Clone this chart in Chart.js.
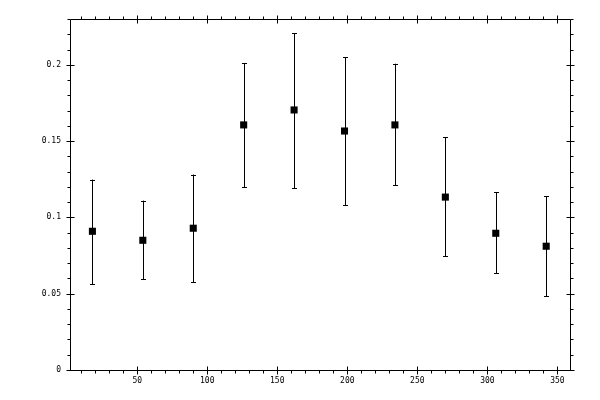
<!DOCTYPE html>
<html>
<head>
<meta charset="utf-8">
<script src="https://cdn.jsdelivr.net/npm/chart.js@4"></script>
<style>
  html, body { margin: 0; padding: 0; background: #fff; }
  #wrap { width: 600px; height: 400px; }
</style>
</head>
<body>
<div id="wrap"><canvas id="c" width="600" height="400"></canvas></div>
<script>
// ---- data ----
const xValues   = [18, 54, 90, 126, 162, 198, 234, 270, 306, 342];
const yValues   = [0.0909, 0.0850, 0.0929, 0.1606, 0.1704, 0.1566, 0.1606, 0.1133, 0.0896, 0.0811];
const yLower    = [0.0561, 0.0594, 0.0574, 0.1198, 0.1192, 0.1080, 0.1212, 0.0745, 0.0633, 0.0482];
const yUpper    = [0.1248, 0.1110, 0.1281, 0.2011, 0.2208, 0.2050, 0.2007, 0.1527, 0.1165, 0.1137];
const xTicks    = [50, 100, 150, 200, 250, 300, 350];
const xTickLabels = ['50', '100', '150', '200', '250', '300', '350'];
const yTicks    = [0, 0.05, 0.1, 0.15, 0.2];
const yTickLabels = ['0', '0.05', '0.1', '0.15', '0.2'];
const xMinorStep = 10;
const yMinorStep = 0.01;

const points = xValues.map((x, i) => ({ x: x, y: yValues[i] }));

const frame = {
  id: 'frame',
  afterDatasetsDraw(chart) {
    const ctx = chart.ctx;
    const a = chart.chartArea;
    const xs = chart.scales.x, ys = chart.scales.y;
    ctx.save();
    ctx.strokeStyle = '#000';
    ctx.lineWidth = 1;
    // error bars
    ctx.beginPath();
    for (let i = 0; i < xValues.length; i++) {
      const px = Math.round(xs.getPixelForValue(xValues[i])) + 0.5;
      const pl = ys.getPixelForValue(yLower[i]);
      const pu = ys.getPixelForValue(yUpper[i]);
      ctx.moveTo(px, pl); ctx.lineTo(px, pu);
      ctx.moveTo(px - 2.5, Math.round(pl) + 0.5); ctx.lineTo(px + 2.5, Math.round(pl) + 0.5);
      ctx.moveTo(px - 2.5, Math.round(pu) + 0.5); ctx.lineTo(px + 2.5, Math.round(pu) + 0.5);
    }
    ctx.stroke();
    // frame
    const L = Math.round(a.left) + 0.5, R = Math.round(a.right) + 0.5;
    const T = Math.round(a.top) + 0.5, B = Math.round(a.bottom) + 0.5;
    ctx.beginPath();
    ctx.rect(L, T, R - L, B - T);
    ctx.stroke();
    // ticks
    ctx.beginPath();
    const xmin = xs.min, xmax = xs.max;
    for (let v = Math.ceil(xmin / xMinorStep) * xMinorStep; v <= xmax + 1e-9; v += xMinorStep) {
      const px = Math.round(xs.getPixelForValue(v)) + 0.5;
      const major = xTicks.some(t => Math.abs(t - v) < 1e-6);
      if (major) {
        ctx.moveTo(px, B - 4); ctx.lineTo(px, B + 4);
        ctx.moveTo(px, T - 4); ctx.lineTo(px, T + 4);
      } else {
        ctx.moveTo(px, B); ctx.lineTo(px, B + 3);
        ctx.moveTo(px, T); ctx.lineTo(px, T - 3);
      }
    }
    const ymin = ys.min, ymax = ys.max;
    for (let k = 0; k * yMinorStep <= ymax + 1e-9; k++) {
      const v = k * yMinorStep;
      if (v < ymin - 1e-9) continue;
      const py = Math.round(ys.getPixelForValue(v)) + 0.5;
      const major = yTicks.some(t => Math.abs(t - v) < 1e-6);
      if (major) {
        ctx.moveTo(L - 4, py); ctx.lineTo(L + 4, py);
        ctx.moveTo(R - 4, py); ctx.lineTo(R + 4, py);
      } else {
        ctx.moveTo(L, py); ctx.lineTo(L - 3, py);
        ctx.moveTo(R, py); ctx.lineTo(R + 3, py);
      }
    }
    ctx.stroke();
    ctx.restore();
  }
};

new Chart(document.getElementById('c'), {
  type: 'scatter',
  data: {
    datasets: [{
      data: points,
      pointStyle: 'rect',
      pointRadius: 5,
      pointHoverRadius: 5,
      backgroundColor: '#000',
      borderColor: '#000',
      borderWidth: 0
    }]
  },
  options: {
    responsive: false,
    animation: false,
    devicePixelRatio: 1,
    layout: { padding: { top: 19, right: 30, left: 0, bottom: 0 } },
    plugins: { legend: { display: false }, tooltip: { enabled: false } },
    scales: {
      x: {
        type: 'linear',
        min: 2,
        max: 359,
        grid: { display: false, drawTicks: false, tickLength: 0 },
        border: { display: false },
        afterBuildTicks: s => { s.ticks = xTicks.map(v => ({ value: v })); },
        afterFit: s => { s.height = 30; },
        ticks: {
          padding: 6,
          color: '#000',
          maxRotation: 0,
          font: { family: 'DejaVu Sans Mono', size: 8 },
          callback: v => { const i = xTicks.indexOf(v); return i >= 0 ? xTickLabels[i] : ''; }
        }
      },
      y: {
        type: 'linear',
        min: 0,
        max: 0.23,
        grid: { display: false, drawTicks: false, tickLength: 0 },
        border: { display: false },
        afterBuildTicks: s => { s.ticks = yTicks.map(v => ({ value: v })); },
        afterFit: s => { s.width = 70; },
        ticks: {
          padding: 9,
          color: '#000',
          font: { family: 'DejaVu Sans Mono', size: 8 },
          callback: v => { const i = yTicks.findIndex(t => Math.abs(t - v) < 1e-9); return i >= 0 ? yTickLabels[i] : ''; }
        }
      }
    }
  },
  plugins: [frame]
});
</script>
</body>
</html>
